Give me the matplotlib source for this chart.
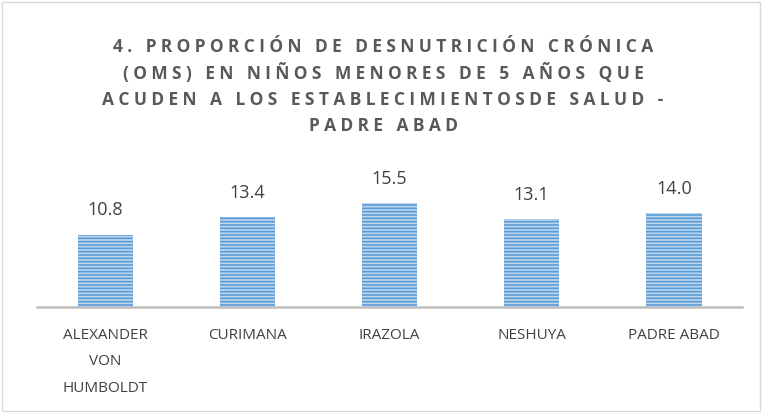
import matplotlib.pyplot as plt
from matplotlib.patches import Rectangle

# data
districts = ["ALEXANDER\nVON\nHUMBOLDT", "CURIMANA", "IRAZOLA", "NESHUYA", "PADRE ABAD"]
values = [10.8, 13.4, 15.5, 13.1, 14.0]
title_lines = [
    "4. PROPORCIÓN DE DESNUTRICIÓN CRÓNICA",
    "(OMS) EN NIÑOS MENORES DE 5 AÑOS QUE",
    "ACUDEN A LOS ESTABLECIMIENTOSDE SALUD -",
    "PADRE ABAD",
]

plt.rcParams['font.family'] = ['Open Sans', 'DejaVu Sans']
plt.rcParams['hatch.linewidth'] = 1.2
plt.rcParams['hatch.color'] = '#5B9BD5'


def spaced(s):
    # mimic the wide letter spacing of the title
    return "\u2005".join(s).replace("\u2005 \u2005", "   ")


fig = plt.figure(figsize=(7.63, 4.12), dpi=100)
ax = fig.add_axes([0.0485, 0.2549, 0.924, 0.332])

x = range(len(values))
bars = ax.bar(x, values, width=0.39, color='#BDD7EE', edgecolor='#5B9BD5',
              linewidth=0, hatch='-----')
for xi, v in zip(x, values):
    ax.text(xi, v + 2.3, f"{v:.1f}", ha='center', va='bottom',
            fontsize=13, color='#404040')

ax.set_xlim(-0.48, len(values) - 0.52)
ax.set_ylim(0, 20.4)
ax.set_xticks(list(x))
ax.set_xticklabels(districts, fontsize=11, color='#404040', linespacing=2.05)
ax.tick_params(axis='x', length=0, pad=15)
ax.set_yticks([])
for side in ['top', 'right', 'left']:
    ax.spines[side].set_visible(False)
ax.spines['bottom'].set_color('#BFBFBF')
ax.spines['bottom'].set_linewidth(1.8)

for i, line in enumerate(title_lines):
    fig.text(0.502, 1 - (47 + i * 26.3) / 412, spaced(line), ha='center', va='center',
             fontsize=12.5, fontweight='bold', color='#595959',
             family=['Open Sans', 'DejaVu Sans'])

fig.patches.append(Rectangle((0.002, 0.003), 0.994, 0.993, transform=fig.transFigure,
                             fill=False, edgecolor='#D9D9D9', linewidth=1))

fig.savefig('out.png', dpi=100)
